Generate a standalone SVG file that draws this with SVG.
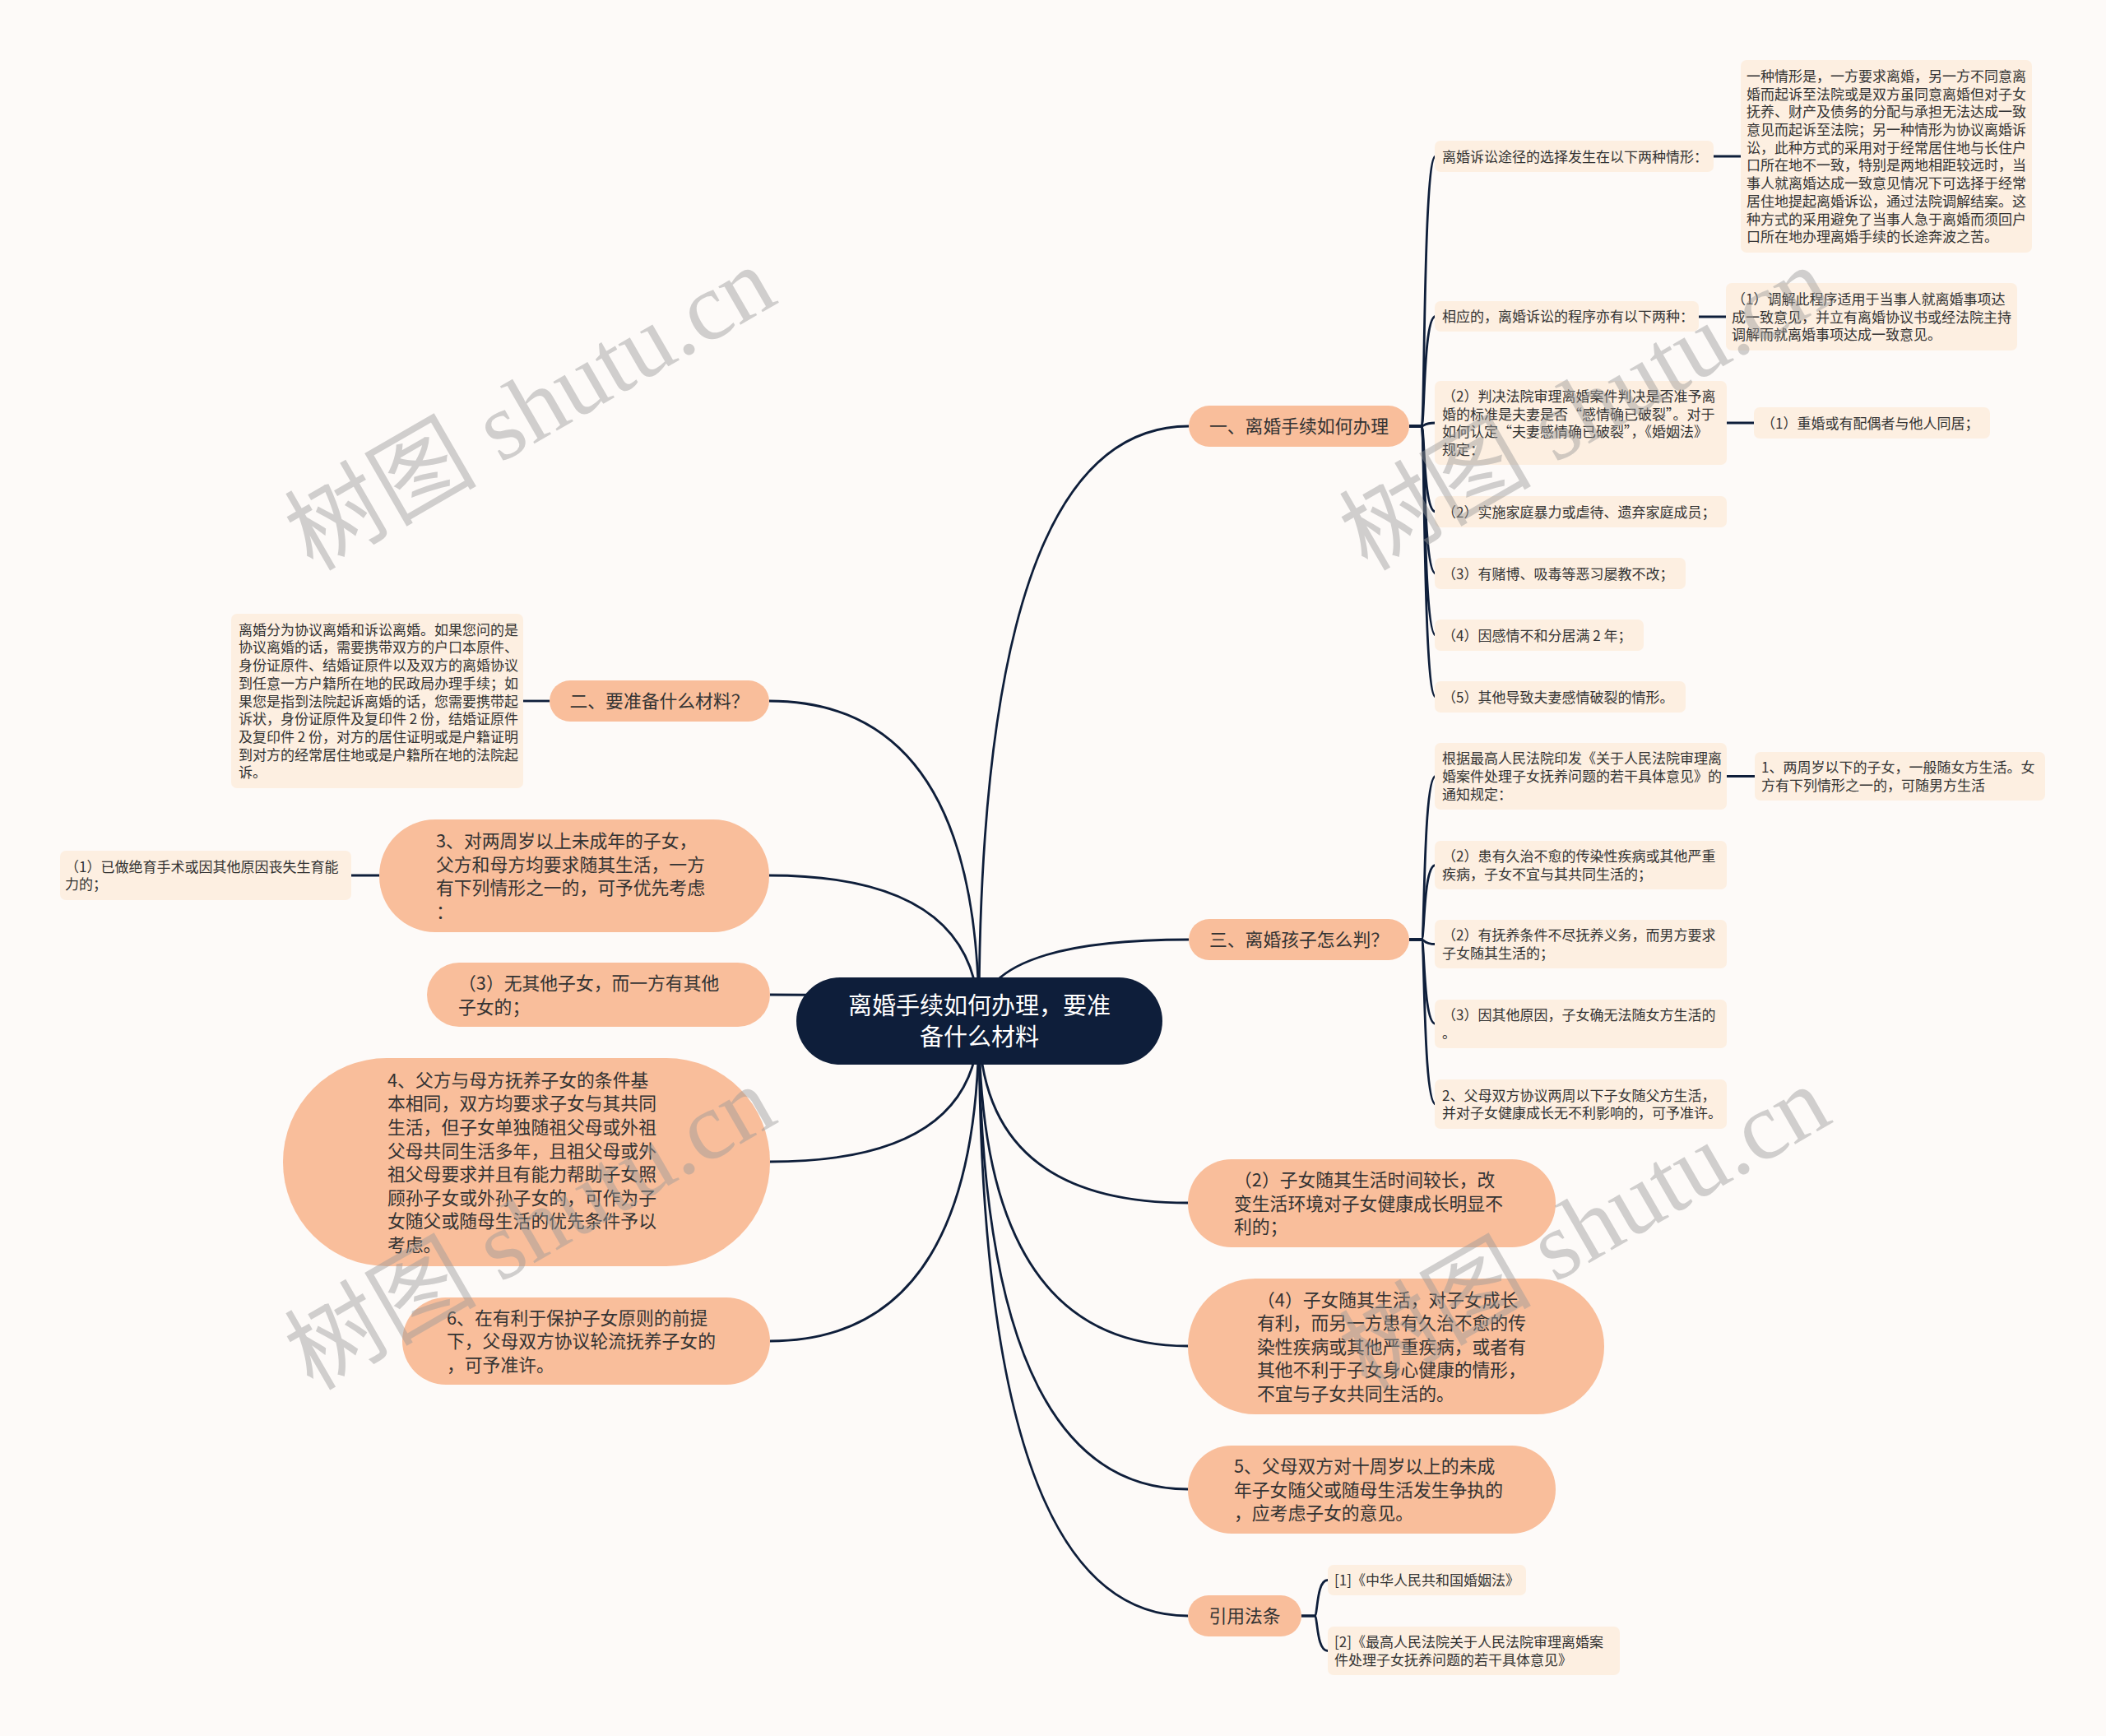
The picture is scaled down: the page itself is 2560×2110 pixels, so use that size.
<svg xmlns="http://www.w3.org/2000/svg" width="2560" height="2110" viewBox="0 0 2560 2110">
<style>
text{font-family:"Noto Sans CJK SC","Noto Sans",sans-serif;}
.leaf rect{fill:#fdefe1;}
.leaf text{font-size:17px;fill:#333;}
.peach rect{fill:#f9be9b;}
.peach text{font-size:21.8px;fill:#333;}
.mid{text-anchor:middle;}
.conn path{fill:none;stroke:#0e1e3a;stroke-width:2.8;}
.wm text{font-family:"Liberation Serif","Noto Sans CJK SC",serif;font-size:117px;fill:#9a9a9a;opacity:0.45;}
</style>
<rect width="2560" height="2110" fill="#fdfaf8"/>
<g id="connectors" class="conn">
<path d="M1190,1241 Q1190,518 1445,518"/>
<path d="M1190,1241 Q1190,1142 1445,1142"/>
<path d="M1190,1241 Q1190,1462 1444,1462"/>
<path d="M1190,1241 Q1190,1636 1444,1636"/>
<path d="M1190,1241 Q1190,1810 1444,1810"/>
<path d="M1190,1241 Q1190,1964 1444,1964"/>
<path d="M1190,1241 Q1190,852 935,852"/>
<path d="M1190,1241 Q1190,1064 935,1064"/>
<path d="M1190,1241 Q1190,1209 936,1209"/>
<path d="M1190,1241 Q1190,1412 936,1412"/>
<path d="M1190,1241 Q1190,1630 936,1630"/>
<path d="M1713,518 H1728 C1732,518 1730,190 1745,190"/>
<path d="M1713,518 H1728 C1732,518 1730,384.5 1745,384.5"/>
<path d="M1713,518 H1728 C1732,518 1730,514 1745,514"/>
<path d="M1713,518 H1728 C1732,518 1730,622 1745,622"/>
<path d="M1713,518 H1728 C1732,518 1730,697 1745,697"/>
<path d="M1713,518 H1728 C1732,518 1730,772 1745,772"/>
<path d="M1713,518 H1728 C1732,518 1730,847 1745,847"/>
<path d="M1713,1142 H1728 C1732,1142 1730,943.5 1745,943.5"/>
<path d="M1713,1142 H1728 C1732,1142 1730,1051.5 1745,1051.5"/>
<path d="M1713,1142 H1728 C1732,1142 1730,1147.5 1745,1147.5"/>
<path d="M1713,1142 H1728 C1732,1142 1730,1244.5 1745,1244.5"/>
<path d="M1713,1142 H1728 C1732,1142 1730,1342 1745,1342"/>
<path d="M1582,1964 H1598 C1602,1964 1600,1920.5 1614,1920.5"/>
<path d="M1582,1964 H1598 C1602,1964 1600,2006.5 1614,2006.5"/>
<path d="M2083,190 H2116"/>
<path d="M2065,385 H2098"/>
<path d="M2099,514 H2132"/>
<path d="M2099,943.5 H2133"/>
<path d="M668,852 H636"/>
<path d="M461,1064 H427"/>
</g>
<g id="root">
<rect x="968" y="1188" width="445" height="106" rx="53" fill="#0e1e3a"/>
<text class="mid" x="1190.5" y="1233" font-size="29" fill="#fff">离婚手续如何办理，要准</text>
<text class="mid" x="1190.5" y="1271" font-size="29" fill="#fff">备什么材料</text>
</g>
<g id="b1" class="peach"><rect x="1445" y="493" width="268" height="50" rx="25"/><text class="mid" x="1579" y="526.3">一、离婚手续如何办理</text></g>
<g id="b3" class="peach"><rect x="1445" y="1117" width="268" height="50" rx="25"/><text class="mid" x="1579" y="1150.3">三、离婚孩子怎么判？</text></g>
<g id="b2" class="peach"><rect x="668" y="827" width="267" height="50" rx="25"/><text class="mid" x="801.5" y="860.3">二、要准备什么材料？</text></g>
<g id="bref" class="peach"><rect x="1444" y="1939" width="138" height="50" rx="25"/><text class="mid" x="1513" y="1972.3">引用法条</text></g>
<g id="r2" class="peach"><rect x="1444" y="1409" width="447" height="107" rx="53"/>
<text x="1500" y="1442.2">（2）子女随其生活时间较长，改</text>
<text x="1500" y="1470.8">变生活环境对子女健康成长明显不</text>
<text x="1500" y="1499.4">利的；</text></g>
<g id="r4" class="peach"><rect x="1444" y="1554" width="506" height="165" rx="82"/>
<text x="1528" y="1587.6">（4）子女随其生活，对子女成长</text>
<text x="1528" y="1616.2">有利，而另一方患有久治不愈的传</text>
<text x="1528" y="1644.8">染性疾病或其他严重疾病，或者有</text>
<text x="1528" y="1673.4">其他不利于子女身心健康的情形，</text>
<text x="1528" y="1702">不宜与子女共同生活的。</text></g>
<g id="r5" class="peach"><rect x="1444" y="1757" width="447" height="107" rx="53"/>
<text x="1500" y="1790.2">5、父母双方对十周岁以上的未成</text>
<text x="1500" y="1818.8">年子女随父或随母生活发生争执的</text>
<text x="1500" y="1847.4">，应考虑子女的意见。</text></g>
<g id="l3" class="peach"><rect x="461" y="996" width="474" height="137" rx="68"/>
<text x="530" y="1029.9">3、对两周岁以上未成年的子女，</text>
<text x="530" y="1058.5">父方和母方均要求随其生活，一方</text>
<text x="530" y="1087.1">有下列情形之一的，可予优先考虑</text>
<text x="530" y="1115.7">：</text></g>
<g id="l3b" class="peach"><rect x="519" y="1170" width="417" height="78" rx="39"/>
<text x="557" y="1203">（3）无其他子女，而一方有其他</text>
<text x="557" y="1231.6">子女的；</text></g>
<g id="l4" class="peach"><rect x="344" y="1286" width="592" height="253" rx="126"/>
<text x="471" y="1320.7">4、父方与母方抚养子女的条件基</text>
<text x="471" y="1349.3">本相同，双方均要求子女与其共同</text>
<text x="471" y="1377.9">生活，但子女单独随祖父母或外祖</text>
<text x="471" y="1406.5">父母共同生活多年，且祖父母或外</text>
<text x="471" y="1435.1">祖父母要求并且有能力帮助子女照</text>
<text x="471" y="1463.7">顾孙子女或外孙子女的，可作为子</text>
<text x="471" y="1492.3">女随父或随母生活的优先条件予以</text>
<text x="471" y="1520.9">考虑。</text></g>
<g id="l6" class="peach"><rect x="489" y="1577" width="447" height="106" rx="53"/>
<text x="543" y="1609.7">6、在有利于保护子女原则的前提</text>
<text x="543" y="1638.3">下，父母双方协议轮流抚养子女的</text>
<text x="543" y="1666.9">，可予准许。</text></g>
<g id="n1a" class="leaf"><rect x="1744" y="171" width="339" height="38" rx="7"/><text x="1753" y="196.5">离婚诉讼途径的选择发生在以下两种情形：</text></g>
<g id="n1a1" class="leaf"><rect x="2116" y="73" width="354" height="234" rx="7"/>
<text x="2123" y="98.9">一种情形是，一方要求离婚，另一方不同意离</text>
<text x="2123" y="120.6">婚而起诉至法院或是双方虽同意离婚但对子女</text>
<text x="2123" y="142.3">抚养、财产及债务的分配与承担无法达成一致</text>
<text x="2123" y="164">意见而起诉至法院；另一种情形为协议离婚诉</text>
<text x="2123" y="185.7">讼，此种方式的采用对于经常居住地与长住户</text>
<text x="2123" y="207.4">口所在地不一致，特别是两地相距较远时，当</text>
<text x="2123" y="229.1">事人就离婚达成一致意见情况下可选择于经常</text>
<text x="2123" y="250.8">居住地提起离婚诉讼，通过法院调解结案。这</text>
<text x="2123" y="272.5">种方式的采用避免了当事人急于离婚而须回户</text>
<text x="2123" y="294.2">口所在地办理离婚手续的长途奔波之苦。</text></g>
<g id="n1b" class="leaf"><rect x="1744" y="366" width="321" height="37" rx="7"/><text x="1753" y="391">相应的，离婚诉讼的程序亦有以下两种：</text></g>
<g id="n1b1" class="leaf"><rect x="2098" y="344" width="354" height="82" rx="7"/>
<text x="2105" y="369.8">（1）调解此程序适用于当事人就离婚事项达</text>
<text x="2105" y="391.5">成一致意见，并立有离婚协议书或经法院主持</text>
<text x="2105" y="413.2">调解而就离婚事项达成一致意见。</text></g>
<g id="n1c" class="leaf"><rect x="1744" y="463" width="355" height="102" rx="7"/>
<text x="1753" y="488">（2）判决法院审理离婚案件判决是否准予离</text>
<text x="1753" y="509.7">婚的标准是夫妻是否“感情确已破裂”。对于</text>
<text x="1753" y="531.4">如何认定“夫妻感情确已破裂”，《婚姻法》</text>
<text x="1753" y="553.1">规定：</text></g>
<g id="n1c1" class="leaf"><rect x="2132" y="495" width="287" height="38" rx="7"/><text x="2141" y="520.5">（1）重婚或有配偶者与他人同居；</text></g>
<g id="n1d" class="leaf"><rect x="1744" y="603" width="355" height="38" rx="7"/><text x="1753" y="628.5">（2）实施家庭暴力或虐待、遗弃家庭成员；</text></g>
<g id="n1e" class="leaf"><rect x="1744" y="678" width="305" height="38" rx="7"/><text x="1753" y="703.5">（3）有赌博、吸毒等恶习屡教不改；</text></g>
<g id="n1f" class="leaf"><rect x="1744" y="753" width="254" height="38" rx="7"/><text x="1753" y="778.5">（4）因感情不和分居满 2 年；</text></g>
<g id="n1g" class="leaf"><rect x="1744" y="828" width="305" height="38" rx="7"/><text x="1753" y="853.5">（5）其他导致夫妻感情破裂的情形。</text></g>
<g id="n3h" class="leaf"><rect x="1744" y="903" width="355" height="81" rx="7"/>
<text x="1753" y="928.3">根据最高人民法院印发《关于人民法院审理离</text>
<text x="1753" y="950">婚案件处理子女抚养问题的若干具体意见》的</text>
<text x="1753" y="971.7">通知规定：</text></g>
<g id="n3h1" class="leaf"><rect x="2133" y="914" width="353" height="59" rx="7"/>
<text x="2141" y="939.2">1、两周岁以下的子女，一般随女方生活。女</text>
<text x="2141" y="960.9">方有下列情形之一的，可随男方生活</text></g>
<g id="n3i" class="leaf"><rect x="1744" y="1022" width="355" height="59" rx="7"/>
<text x="1753" y="1047.2">（2）患有久治不愈的传染性疾病或其他严重</text>
<text x="1753" y="1068.9">疾病，子女不宜与其共同生活的；</text></g>
<g id="n3j" class="leaf"><rect x="1744" y="1118" width="355" height="59" rx="7"/>
<text x="1753" y="1143.2">（2）有抚养条件不尽抚养义务，而男方要求</text>
<text x="1753" y="1164.9">子女随其生活的；</text></g>
<g id="n3k" class="leaf"><rect x="1744" y="1215" width="355" height="59" rx="7"/>
<text x="1753" y="1240.2">（3）因其他原因，子女确无法随女方生活的</text>
<text x="1753" y="1261.9">。</text></g>
<g id="n3l" class="leaf"><rect x="1744" y="1312" width="355" height="60" rx="7"/>
<text x="1753" y="1337.7">2、父母双方协议两周以下子女随父方生活，</text>
<text x="1753" y="1359.4">并对子女健康成长无不利影响的，可予准许。</text></g>
<g id="n2a" class="leaf"><rect x="281" y="746" width="355" height="212" rx="7"/>
<text x="290" y="771.7">离婚分为协议离婚和诉讼离婚。如果您问的是</text>
<text x="290" y="793.4">协议离婚的话，需要携带双方的户口本原件、</text>
<text x="290" y="815.1">身份证原件、结婚证原件以及双方的离婚协议</text>
<text x="290" y="836.8">到任意一方户籍所在地的民政局办理手续；如</text>
<text x="290" y="858.5">果您是指到法院起诉离婚的话，您需要携带起</text>
<text x="290" y="880.2">诉状，身份证原件及复印件 2 份，结婚证原件</text>
<text x="290" y="901.9">及复印件 2 份，对方的居住证明或是户籍证明</text>
<text x="290" y="923.6">到对方的经常居住地或是户籍所在地的法院起</text>
<text x="290" y="945.3">诉。</text></g>
<g id="n3a" class="leaf"><rect x="73" y="1034" width="354" height="60" rx="7"/>
<text x="79" y="1059.7">（1）已做绝育手术或因其他原因丧失生育能</text>
<text x="79" y="1081.4">力的；</text></g>
<g id="ref1" class="leaf"><rect x="1614" y="1902" width="241" height="37" rx="7"/><text x="1622" y="1927">[1]《中华人民共和国婚姻法》</text></g>
<g id="ref2" class="leaf"><rect x="1614" y="1977" width="355" height="59" rx="7"/>
<text x="1622" y="2002.2">[2]《最高人民法院关于人民法院审理离婚案</text>
<text x="1622" y="2023.9">件处理子女抚养问题的若干具体意见》</text></g>
<g id="watermarks" class="wm">
<text x="380" y="695" transform="rotate(-30 380 695)">树图 shutu.cn</text>
<text x="1662" y="695" transform="rotate(-30 1662 695)">树图 shutu.cn</text>
<text x="380" y="1691" transform="rotate(-30 380 1691)">树图 shutu.cn</text>
<text x="1662" y="1691" transform="rotate(-30 1662 1691)">树图 shutu.cn</text>
</g>
</svg>
